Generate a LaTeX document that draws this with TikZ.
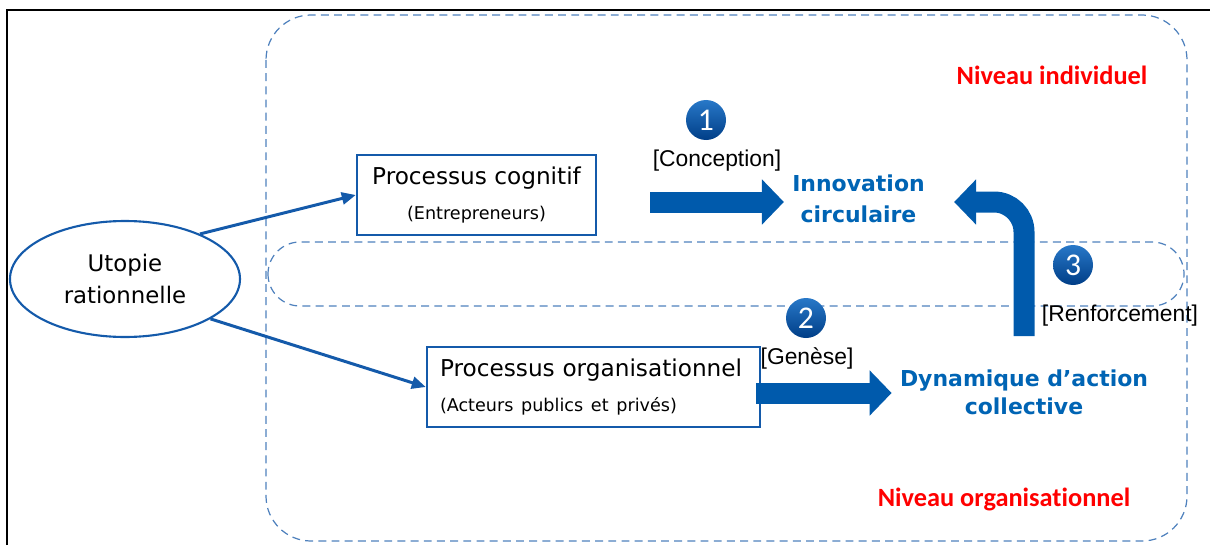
\documentclass[tikz,border=0pt]{standalone}
\usepackage{fontspec}
\setmainfont{DejaVu Sans}
\newfontfamily\arialfont{Liberation Sans}
\newfontfamily\calfont[Ligatures=NoCommon]{Carlito}
\usepackage{tikz}
\usetikzlibrary{arrows.meta, shapes.geometric, calc}
\usepackage{xcolor}
\definecolor{boxBlue}{RGB}{20,90,170}
\definecolor{textBlue}{RGB}{0,100,180}
\definecolor{dashBlue}{RGB}{79,129,189}
\definecolor{arrowBlue}{RGB}{0,90,172}
\definecolor{ballTop}{RGB}{40,120,200}
\definecolor{ballBottom}{RGB}{0,62,135}

\begin{document}
\begin{tikzpicture}[
    x=0.2mm, y=-0.2mm,
    every node/.style={font=\fontsize{13.2}{20}\selectfont},
    process/.style={draw=boxBlue, line width=1.4pt, minimum height=16mm, inner sep=0pt},
    outcome/.style={text=textBlue, align=center, inner sep=0pt},
    phase/.style={font=\arialfont\fontsize{13}{15}\selectfont, inner sep=0pt},
    stepnum/.style={circle, minimum size=8mm, inner sep=0pt, top color=ballTop,
                    bottom color=ballBottom, text=white, font=\calfont\fontsize{18}{18}\selectfont},
    level/.style={text=red, font=\calfont\bfseries\fontsize{15}{18}\selectfont},
    link/.style={draw=boxBlue, line width=1.7pt, -{Triangle[length=2.8mm, width=2.4mm]}},
    fatarrow/.style={draw=arrowBlue, line width=4.2mm, -{Triangle[length=4.4mm, width=8.8mm]}},
    zone/.style={draw=dashBlue, line width=0.7pt, dash pattern=on 4.5pt off 3pt}
  ]
    \useasboundingbox (0,0) rectangle (1210,545);
    \draw[line width=1.1pt] (7,545) -- (7,10) -- (1210,10);

    \draw[zone, rounded corners=9mm] (266,15) rectangle (1187,541);
    \draw[zone, rounded corners=6.4mm] (268,242) rectangle (1184,306);

    \node[draw=boxBlue, line width=1.2pt, ellipse, minimum width=46mm, minimum height=23.2mm,
          inner sep=0pt, align=center, font=\fontsize{13}{18}\selectfont] (uto) at (125,279)
      {Utopie\\rationnelle};
    \node[process, minimum width=47.8mm, align=center] (cog) at (476.5,195)
      {Processus cognitif\\{\fontsize{10}{12}\selectfont (Entrepreneurs)}};
    \node[process, text width=61.4mm, inner xsep=2.6mm, align=left] (orgbox) at (593.5,387)
      {Processus organisationnel\\{\fontsize{10}{12}\selectfont (Acteurs publics et privés)}};

    \node[outcome, font=\bfseries\fontsize{12.5}{17.6}\selectfont] (innov) at (858.5,199)
      {Innovation\\circulaire};
    \node[outcome, font=\bfseries\fontsize{12.5}{16}\selectfont] (dyn) at (1024,392)
      {Dynamique d’action\\collective};

    \node[phase] (concep) at (717,161) {[Conception]};
    \node[phase] (genese) at (807,358) {[Genèse]};
    \node[phase] (renfo) at (1120,316) {[Renforcement]};

    \node[stepnum] (s1) at (706,120) {1};
    \node[stepnum] (s2) at (806,318) {2};
    \node[stepnum] (s3) at (1073,265) {3};

    \node[level] (indiv) at (1052,75) {Niveau individuel};
    \node[level] (orga) at (1004,499) {Niveau organisationnel};

    \draw[link] (uto.31) -- (cog.west);
    \draw[link] (uto.-25) -- (orgbox.west);

    \draw[fatarrow, shorten <=10.6mm, shorten >=1.6mm]
      ([yshift=-1.4mm]cog.east) -- ([yshift=-1.4mm]cog.east -| innov.west);
    \draw[fatarrow, shorten >=1.6mm]
      ([xshift=-1mm, yshift=-1.2mm]orgbox.east) -- ([yshift=-1.2mm]orgbox.east -| dyn.west);
    \coordinate (loopfoot) at (1024,336);
    \draw[fatarrow, rounded corners=6mm, shorten >=5.8mm]
      (loopfoot) |- ([yshift=-0.6mm]innov.east);
  \end{tikzpicture}
\end{document}
